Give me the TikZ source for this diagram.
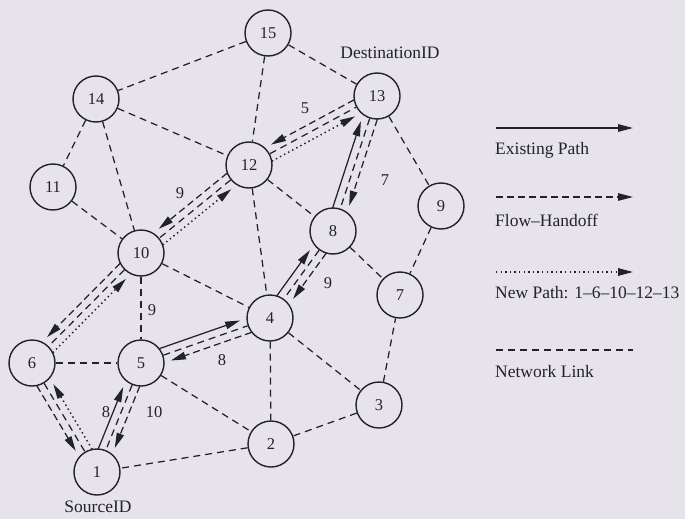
\documentclass[tikz,border=0pt]{standalone}
\usepackage{fontspec}
\setmainfont{Liberation Serif}
\usetikzlibrary{arrows.meta,calc}

\definecolor{paper}{RGB}{231,227,235}
\definecolor{ink}{RGB}{34,34,40}

% one of several parallel lanes between two stations, offset sideways
\newcommand\lane[4]{\draw[#1] ($(#2)!#4!90:(#3)$) -- ($(#3)!#4!-90:(#2)$);}

\begin{document}
\begin{tikzpicture}[x=1pt,y=-1pt,
  every node/.style={text=ink},
  station/.style={circle,draw=ink,line width=1.4pt,minimum size=46pt,inner sep=0pt,
                  font=\fontsize{16.5}{18}\selectfont},
  caption/.style={font=\fontsize{17.5}{20}\selectfont,inner sep=1pt},
  num/.style={font=\fontsize{16.5}{18}\selectfont,inner sep=1pt},
  tip/.style={-{Triangle[length=15pt,width=7.5pt]}},
  netlink/.style={draw=ink,line width=1.25pt,dash pattern=on 7pt off 5pt},
  handoff/.style={draw=ink,line width=1.25pt,dash pattern=on 7pt off 4pt,tip},
  newpath/.style={draw=ink,line width=1.5pt,dash pattern=on 1.4pt off 3.2pt,tip},
  existing/.style={draw=ink,line width=1.25pt,tip},
  lanend/.style={shorten <=22pt,shorten >=29pt},
]
\fill[paper] (0,0) rectangle (685,519);
\useasboundingbox (0,0) rectangle (685,519);

% stations
\node[station] (n15) at (268,33)  {15};
\node[station] (n14) at (96,99)   {14};
\node[station] (n13) at (377,96)  {13};
\node[station] (n11) at (53,187)  {11};
\node[station] (n12) at (249,165) {12};
\node[station] (n9)  at (441,206) {9};
\node[station] (n8)  at (333,231) {8};
\node[station] (n10) at (141,253) {10};
\node[station] (n7)  at (400,295) {7};
\node[station] (n4)  at (270,318) {4};
\node[station] (n6)  at (32,363)  {6};
\node[station] (n5)  at (141,363) {5};
\node[station] (n3)  at (379,405) {3};
\node[station] (n2)  at (271,444) {2};
\node[station] (n1)  at (97,472)  {1};

\node[caption] (dst) at (390,53)  {DestinationID};
\node[caption] (src) at (98,507)  {SourceID};

% network links
\foreach \a/\b in {n15/n14,n15/n12,n15/n13,n14/n11,n14/n10,n14/n12,n11/n10,
                   n12/n10,n12/n13,n12/n4,n12/n8,n13/n8,n13/n9,n9/n7,n8/n7,
                   n8/n4,n10/n4,n10/n5,n10/n6,n6/n5,n6/n1,n5/n1,n5/n4,n5/n2,
                   n4/n2,n4/n3,n3/n2,n3/n7,n2/n1}
  \draw[netlink] (\a) -- (\b);

% existing path 1-5-4-8-13
\lane{existing,lanend}{n1}{n5}{7.5pt}
\lane{existing,lanend}{n5}{n4}{7.5pt}
\lane{existing,lanend}{n4}{n8}{7.5pt}
\lane{existing,lanend}{n8}{n13}{7.5pt}

% flow handoff back along the path
\lane{handoff,lanend}{n13}{n8}{7.5pt}
\lane{handoff,lanend}{n8}{n4}{7.5pt}
\lane{handoff,lanend}{n4}{n5}{7.5pt}
\lane{handoff,lanend}{n5}{n1}{7.5pt}
\lane{handoff,lanend}{n13}{n12}{-7.5pt}
\lane{handoff,lanend}{n12}{n10}{-7.5pt}
\lane{handoff,lanend}{n10}{n6}{-7.5pt}
\lane{handoff,lanend}{n6}{n1}{-7.5pt}

% new path 1-6-10-12-13
\lane{newpath,lanend}{n1}{n6}{-7.5pt}
\lane{newpath,lanend}{n6}{n10}{-7.5pt}
\lane{newpath,lanend}{n10}{n12}{-7.5pt}
\lane{newpath,lanend}{n12}{n13}{-7.5pt}

% lane labels
\node[num] (c5)   at (305,108) {5};
\node[num] (c9a)  at (180,193) {9};
\node[num] (c7)   at (385,180) {7};
\node[num] (c9b)  at (328,283) {9};
\node[num] (c9c)  at (152,310) {9};
\node[num] (c8a)  at (222,360) {8};
\node[num] (c8b)  at (106,412) {8};
\node[num] (c10)  at (154,412) {10};

% legend
\coordinate (ea) at (496,128); \coordinate (eb) at (633,128);
\coordinate (fa) at (496,197); \coordinate (fb) at (633,197);
\coordinate (pa) at (496,272); \coordinate (pb) at (633,272);
\coordinate (la) at (496,350); \coordinate (lb) at (633,350);
\draw[existing] (ea) -- (eb);
\draw[handoff] (fa) -- (fb);
\draw[newpath] (pa) -- (pb);
\draw[netlink] (la) -- (lb);
\node[caption,anchor=west] (te) at (494,150) {Existing Path};
\node[caption,anchor=west] (tf) at (494,220) {Flow--Handoff};
\node[caption,anchor=west] (tp) at (494,293) {New Path: 1--6--10--12--13};
\node[caption,anchor=west] (tl) at (494,372) {Network Link};
\end{tikzpicture}
\end{document}
